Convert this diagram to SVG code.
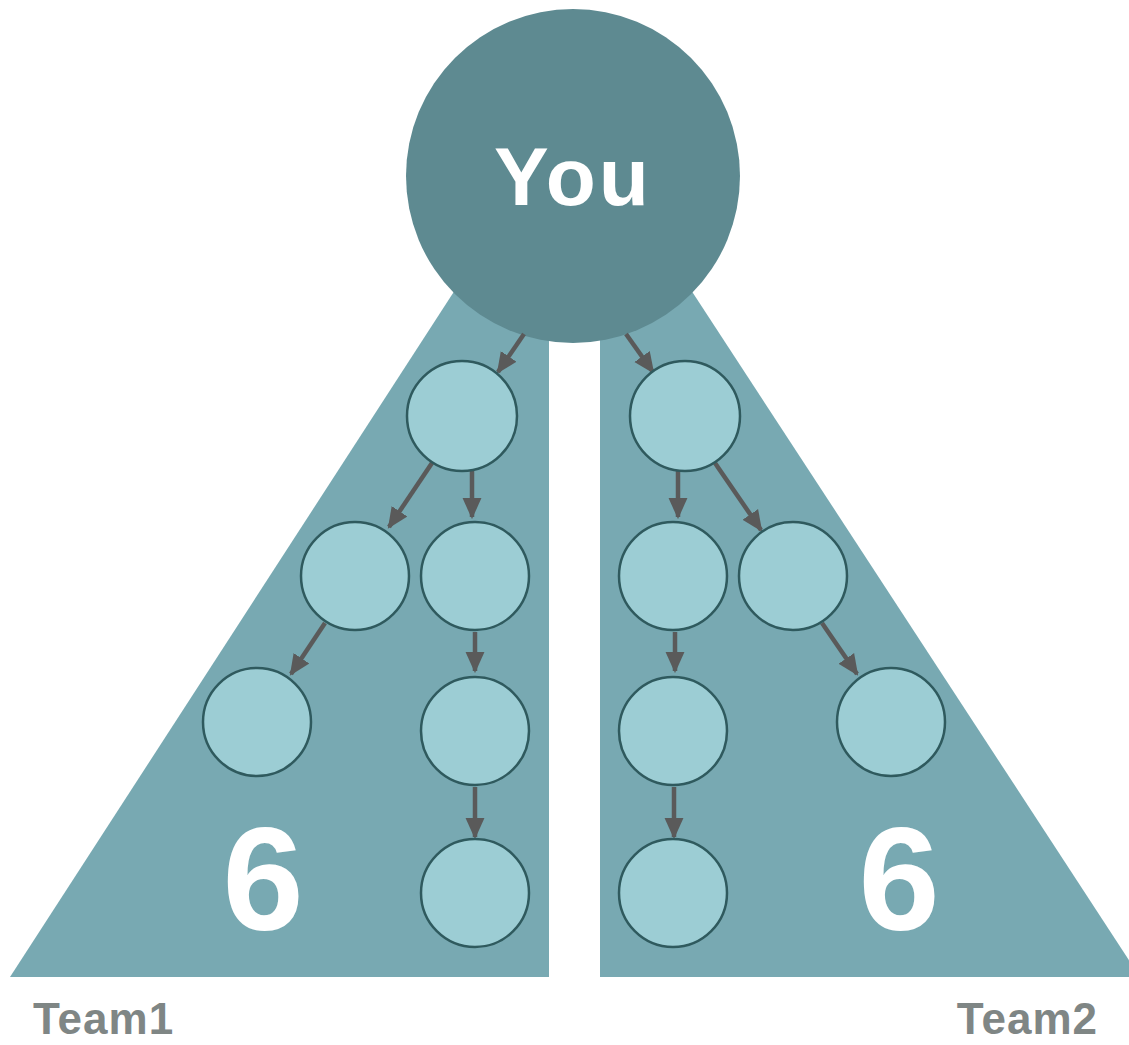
<svg xmlns="http://www.w3.org/2000/svg" width="1129" height="1045" viewBox="0 0 1129 1045">
<defs>
<style>
.tri{fill:#78a9b2}
.n{fill:#9ccdd4;stroke:#2f5a5e;stroke-width:2.5}
.e{stroke:#5a5a5a;stroke-width:4.5;fill:none;marker-end:url(#ah)}
.big{font-family:"Liberation Sans",Arial,sans-serif;font-weight:bold;fill:#fff;text-anchor:middle}
.lab{font-family:"Liberation Sans",Arial,sans-serif;font-weight:bold;fill:#7f8685;font-size:44px;letter-spacing:1px}
</style>
<marker id="ah" viewBox="0 0 10 10" refX="9" refY="5" markerWidth="21" markerHeight="21" markerUnits="userSpaceOnUse" orient="auto">
<path d="M0,0.5 L10,5 L0,9.5 Z" fill="#5a5a5a"/>
</marker>
</defs>
<rect width="1129" height="1045" fill="#fff"/>
<g id="team1-area"><polygon class="tri" points="10,977 455,290 549,290 549,977"/></g>
<g id="team2-area"><polygon class="tri" points="600,290 691,290 1140,977 600,977"/></g>
<g id="you"><circle cx="573" cy="176" r="167" fill="#5e8a91"/><text class="big" x="573" y="205" font-size="82" letter-spacing="3">You</text></g>
<g id="connectors">
<line class="e" x1="524" y1="334" x2="498" y2="372"/>
<line class="e" x1="626" y1="334" x2="653" y2="372"/>
<line class="e" x1="432" y1="463" x2="389" y2="527"/>
<line class="e" x1="472" y1="470" x2="472" y2="517"/>
<line class="e" x1="325" y1="623" x2="291" y2="674"/>
<line class="e" x1="475" y1="632" x2="475" y2="671"/>
<line class="e" x1="475" y1="787" x2="475" y2="837"/>
<line class="e" x1="678" y1="470" x2="678" y2="517"/>
<line class="e" x1="715" y1="463" x2="761" y2="530"/>
<line class="e" x1="675" y1="632" x2="675" y2="671"/>
<line class="e" x1="822" y1="623" x2="857" y2="674"/>
<line class="e" x1="674" y1="787" x2="674" y2="837"/>
</g>
<g id="L1"><circle class="n" cx="462" cy="416" r="55"/></g>
<g id="L2a"><circle class="n" cx="355" cy="576" r="54"/></g>
<g id="L2b"><circle class="n" cx="475" cy="576" r="54"/></g>
<g id="L3a"><circle class="n" cx="257" cy="722" r="54"/></g>
<g id="L3b"><circle class="n" cx="475" cy="731" r="54"/></g>
<g id="L4b"><circle class="n" cx="475" cy="893" r="54"/></g>
<g id="R1"><circle class="n" cx="685" cy="416" r="55"/></g>
<g id="R2a"><circle class="n" cx="673" cy="576" r="54"/></g>
<g id="R2b"><circle class="n" cx="793" cy="576" r="54"/></g>
<g id="R3a"><circle class="n" cx="673" cy="731" r="54"/></g>
<g id="R3b"><circle class="n" cx="891" cy="722" r="54"/></g>
<g id="R4a"><circle class="n" cx="673" cy="893" r="54"/></g>
<g id="count1"><text class="big" x="263" y="930" font-size="146">6</text></g>
<g id="count2"><text class="big" x="899" y="930" font-size="146">6</text></g>
<g id="label1"><text class="lab" x="33" y="1034">Team1</text></g>
<g id="label2"><text class="lab" x="1098" y="1034" text-anchor="end">Team2</text></g>
</svg>
